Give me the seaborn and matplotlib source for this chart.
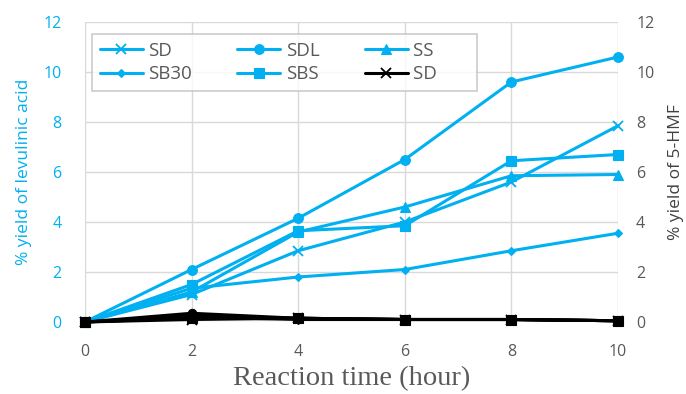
import matplotlib
matplotlib.use("Agg")
import matplotlib.pyplot as plt
import seaborn as sns
import pandas as pd

hours = [0, 2, 4, 6, 8, 10]
# % yield of levulinic acid (left axis)
la_SD = [0.0, 1.1, 2.85, 4.0, 5.6, 7.85]
la_SDL = [0.0, 2.1, 4.15, 6.5, 9.6, 10.6]
la_SS = [0.0, 1.2, 3.6, 4.6, 5.85, 5.9]
la_SB30 = [0.0, 1.35, 1.8, 2.1, 2.85, 3.55]
la_SBS = [0.0, 1.5, 3.65, 3.85, 6.45, 6.7]
# % yield of 5-HMF (right axis)
hmf_SD = [0.0, 0.1, 0.15, 0.1, 0.1, 0.05]
hmf_SDL = [0.0, 0.35, 0.15, 0.1, 0.1, 0.05]
hmf_SS = [0.0, 0.25, 0.15, 0.1, 0.1, 0.05]
hmf_SB30 = [0.0, 0.2, 0.1, 0.1, 0.1, 0.05]
hmf_SBS = [0.0, 0.15, 0.15, 0.1, 0.1, 0.05]

x_ticks = [0, 2, 4, 6, 8, 10]
y_ticks = [0, 2, 4, 6, 8, 10, 12]

sns.set_theme(style="white")
plt.rcParams['font.family'] = ['Open Sans', 'DejaVu Sans']

CYAN = "#00B0F0"
GRAY = "#595959"

fig = plt.figure(figsize=(6.86, 3.94), dpi=100)
ax = fig.add_axes([85/686, 1-322/394, (618-85)/686, 300/394])
ax2 = ax.twinx()

blue = [("SD", la_SD, "x", 7), ("SDL", la_SDL, "o", 7), ("SS", la_SS, "^", 7),
        ("SB30", la_SB30, "D", 4.5), ("SBS", la_SBS, "s", 7)]
black = [("SD", hmf_SD, "x", 7), ("SDL", hmf_SDL, "o", 6), ("SS", hmf_SS, "^", 6),
         ("SB30", hmf_SB30, "D", 4.5), ("SBS", hmf_SBS, "s", 6.5)]

handles = {}
for name, vals, mk, ms in blue:
    df = pd.DataFrame({"t": hours, "y": vals})
    sns.lineplot(data=df, x="t", y="y", ax=ax, color=CYAN, marker=mk, markersize=ms,
                 markeredgecolor=CYAN, markeredgewidth=1.3 if mk == "x" else 0.8,
                 linewidth=2.2, clip_on=False, label=name, legend=False)
    handles["b_" + name] = ax.lines[-1]
for i, (name, vals, mk, ms) in enumerate(black):
    df = pd.DataFrame({"t": hours, "y": vals})
    sns.lineplot(data=df, x="t", y="y", ax=ax2, color="black", marker=mk, markersize=ms,
                 markeredgecolor="black", markeredgewidth=1.3 if mk == "x" else 0.8,
                 linewidth=2.2, clip_on=False, label=name, legend=False)
    if i == 0:
        handles["k_SD"] = ax2.lines[-1]

for a in (ax, ax2):
    a.set_xlim(0, 10)
    a.set_ylim(0, 12)
    a.set_yticks(y_ticks)
    for s in a.spines.values():
        s.set_visible(False)
ax.set_xticks(x_ticks)
ax.grid(True, color="#D9D9D9", linewidth=1.0)
ax.set_axisbelow(True)
ax2.grid(False)

ax.tick_params(axis="y", colors=CYAN, labelsize=11.5, length=0, pad=17)
ax.tick_params(axis="x", colors=GRAY, labelsize=11.5, length=0, pad=16)
ax2.tick_params(axis="y", colors=GRAY, labelsize=11.5, length=0, pad=13)

ax.set_xlabel("Reaction time (hour)", fontsize=20.5, color=GRAY,
              family=["Liberation Serif", "DejaVu Serif"], labelpad=4)
ax.set_ylabel("% yield of levulinic acid", fontsize=12.5, color=CYAN, labelpad=8)
ax2.set_ylabel("% yield of 5-HMF", fontsize=12.5, color="#404040", labelpad=10)

order = ["b_SD", "b_SB30", "b_SDL", "b_SBS", "b_SS", "k_SD"]
pad = "\u2007" * 3
labels = ["SD", "SB30", "SDL", "SBS", "SS" + pad, "SD" + pad]
leg = ax2.legend([handles[k] for k in order], labels, ncol=3,
                 loc="upper left", bbox_to_anchor=(92/686, 1-34/394),
                 bbox_transform=fig.transFigure, frameon=True, fancybox=False,
                 edgecolor="#BFBFBF", fontsize=13.5, handlelength=2.3,
                 columnspacing=2.4, borderpad=0.4, labelspacing=0.3,
                 handletextpad=0.3, borderaxespad=0)
leg.get_frame().set_linewidth(1.2)
for t in leg.get_texts():
    t.set_color(GRAY)

fig.savefig("out.png", dpi=100)
